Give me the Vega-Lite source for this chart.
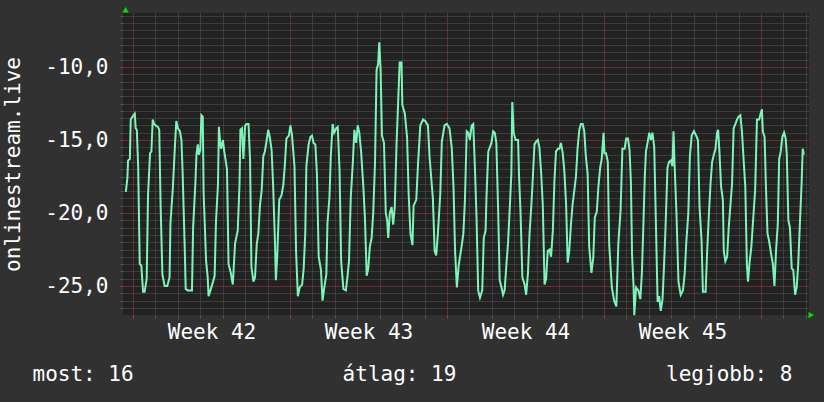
{
  "$schema": "https://vega.github.io/schema/vega-lite/v6.json",
  "width": 686,
  "height": 302,
  "autosize": {"type": "none"},
  "padding": {"left": 123, "top": 13, "right": 15, "bottom": 87},
  "background": "#313131",
  "config": {
    "view": {"fill": "#222222", "stroke": null},
    "font": "DejaVu Sans Mono",
    "axis": {"domain": false, "labelFont": "DejaVu Sans Mono", "titleFont": "DejaVu Sans Mono", "labelColor": "#ffffff", "titleColor": "#ffffff", "labelFontSize": 21, "titleFontSize": 21, "titleFontWeight": "normal"}
  },
  "datasets": {
    "series": [
      {"day":-0.32,"value":-18.55},{"day":-0.25,"value":-17.6},{"day":-0.22,"value":-16.4},{"day":-0.14,"value":-16.3},{"day":-0.10,"value":-13.6},{"day":0.02,"value":-13.3},{"day":0.08,"value":-13.2},{"day":0.12,"value":-14.2},{"day":0.17,"value":-14.3},{"day":0.23,"value":-16.8},{"day":0.30,"value":-23.5},{"day":0.37,"value":-23.6},{"day":0.45,"value":-25.4},{"day":0.52,"value":-25.4},{"day":0.61,"value":-24.5},{"day":0.67,"value":-18.8},{"day":0.76,"value":-15.9},{"day":0.82,"value":-15.8},{"day":0.88,"value":-13.6},{"day":0.94,"value":-13.9},{"day":1.01,"value":-14.0},{"day":1.11,"value":-14.1},{"day":1.17,"value":-14.3},{"day":1.23,"value":-19.4},{"day":1.31,"value":-24.2},{"day":1.41,"value":-25.0},{"day":1.53,"value":-25.0},{"day":1.63,"value":-24.4},{"day":1.67,"value":-20.7},{"day":1.78,"value":-18.2},{"day":1.85,"value":-16.0},{"day":1.93,"value":-13.7},{"day":2.0,"value":-14.2},{"day":2.09,"value":-14.4},{"day":2.16,"value":-15.0},{"day":2.21,"value":-17.1},{"day":2.31,"value":-22.6},{"day":2.35,"value":-25.2},{"day":2.44,"value":-25.3},{"day":2.63,"value":-25.3},{"day":2.68,"value":-21.0},{"day":2.78,"value":-18.0},{"day":2.83,"value":-16.0},{"day":2.89,"value":-15.3},{"day":2.93,"value":-16.0},{"day":3.0,"value":-15.7},{"day":3.05,"value":-13.3},{"day":3.11,"value":-13.4},{"day":3.15,"value":-18.7},{"day":3.26,"value":-23.3},{"day":3.33,"value":-24.4},{"day":3.37,"value":-25.7},{"day":3.45,"value":-25.3},{"day":3.57,"value":-24.7},{"day":3.64,"value":-24.3},{"day":3.70,"value":-20.6},{"day":3.79,"value":-18.0},{"day":3.83,"value":-14.1},{"day":3.89,"value":-15.2},{"day":3.93,"value":-15.6},{"day":4.01,"value":-15.0},{"day":4.07,"value":-15.8},{"day":4.19,"value":-17.0},{"day":4.26,"value":-23.5},{"day":4.36,"value":-24.1},{"day":4.45,"value":-24.9},{"day":4.55,"value":-22.1},{"day":4.67,"value":-21.2},{"day":4.75,"value":-18.0},{"day":4.79,"value":-14.3},{"day":4.86,"value":-14.2},{"day":4.92,"value":-16.3},{"day":5.0,"value":-14.0},{"day":5.07,"value":-13.9},{"day":5.15,"value":-13.9},{"day":5.22,"value":-16.4},{"day":5.28,"value":-23.7},{"day":5.37,"value":-24.7},{"day":5.44,"value":-24.4},{"day":5.52,"value":-22.1},{"day":5.59,"value":-21.4},{"day":5.66,"value":-19.5},{"day":5.74,"value":-18.4},{"day":5.81,"value":-16.1},{"day":5.88,"value":-15.8},{"day":5.96,"value":-15.0},{"day":6.03,"value":-14.3},{"day":6.11,"value":-14.9},{"day":6.18,"value":-15.7},{"day":6.25,"value":-18.2},{"day":6.33,"value":-22.0},{"day":6.37,"value":-24.6},{"day":6.43,"value":-23.0},{"day":6.52,"value":-19.1},{"day":6.62,"value":-18.8},{"day":6.70,"value":-18.1},{"day":6.77,"value":-16.7},{"day":6.84,"value":-14.9},{"day":6.95,"value":-14.7},{"day":7.02,"value":-14.0},
      {"day":7.09,"value":-14.7},{"day":7.20,"value":-16.8},{"day":7.27,"value":-22.6},{"day":7.35,"value":-25.7},{"day":7.43,"value":-25.1},{"day":7.54,"value":-24.9},{"day":7.61,"value":-23.8},{"day":7.68,"value":-21.4},{"day":7.73,"value":-16.8},{"day":7.83,"value":-15.3},{"day":7.91,"value":-14.8},{"day":7.98,"value":-14.7},{"day":8.05,"value":-15.2},{"day":8.13,"value":-15.3},{"day":8.20,"value":-17.3},{"day":8.28,"value":-23.0},{"day":8.38,"value":-23.9},{"day":8.45,"value":-26.0},{"day":8.53,"value":-25.1},{"day":8.62,"value":-24.2},{"day":8.67,"value":-20.7},{"day":8.76,"value":-18.9},{"day":8.82,"value":-16.1},{"day":8.90,"value":-13.9},{"day":8.97,"value":-14.5},{"day":9.06,"value":-14.2},{"day":9.13,"value":-14.1},{"day":9.21,"value":-17.1},{"day":9.28,"value":-23.3},{"day":9.38,"value":-25.2},{"day":9.49,"value":-25.3},{"day":9.56,"value":-24.4},{"day":9.63,"value":-23.3},{"day":9.71,"value":-18.9},{"day":9.80,"value":-16.6},{"day":9.87,"value":-14.3},{"day":9.95,"value":-15.2},{"day":10.02,"value":-14.0},{"day":10.09,"value":-14.5},{"day":10.17,"value":-15.8},{"day":10.27,"value":-18.2},{"day":10.34,"value":-20.3},{"day":10.42,"value":-24.3},{"day":10.49,"value":-23.8},{"day":10.56,"value":-22.3},{"day":10.64,"value":-21.7},{"day":10.71,"value":-20.0},{"day":10.79,"value":-16.6},{"day":10.86,"value":-10.2},{"day":10.93,"value":-9.8},{"day":10.98,"value":-8.3},{"day":11.04,"value":-10.2},{"day":11.10,"value":-14.7},{"day":11.19,"value":-15.2},{"day":11.27,"value":-20.0},{"day":11.33,"value":-20.5},{"day":11.38,"value":-21.7},{"day":11.45,"value":-20.0},{"day":11.53,"value":-19.6},{"day":11.60,"value":-20.8},{"day":11.67,"value":-19.6},{"day":11.75,"value":-15.3},{"day":11.82,"value":-12.5},{"day":11.89,"value":-9.7},{"day":11.97,"value":-9.7},{"day":12.01,"value":-12.6},{"day":12.12,"value":-13.2},{"day":12.22,"value":-14.8},{"day":12.29,"value":-18.7},{"day":12.37,"value":-21.4},{"day":12.46,"value":-22.2},{"day":12.51,"value":-19.5},{"day":12.63,"value":-19.1},{"day":12.71,"value":-16.6},{"day":12.81,"value":-14.0},{"day":12.93,"value":-13.6},{"day":13.03,"value":-13.7},{"day":13.15,"value":-14.0},{"day":13.22,"value":-16.1},{"day":13.37,"value":-19.0},{"day":13.45,"value":-22.6},{"day":13.52,"value":-22.9},{"day":13.59,"value":-21.5},{"day":13.70,"value":-18.7},{"day":13.77,"value":-15.1},{"day":13.89,"value":-14.0},{"day":13.99,"value":-13.9},{"day":14.11,"value":-14.2},{"day":14.21,"value":-15.5},{"day":14.29,"value":-18.2},{"day":14.36,"value":-22.6},{"day":14.44,"value":-25.1},{"day":14.52,"value":-23.6},
      {"day":14.65,"value":-22.3},{"day":14.73,"value":-21.4},{"day":14.80,"value":-19.1},{"day":14.88,"value":-14.4},{"day":14.95,"value":-14.5},{"day":15.02,"value":-15.0},{"day":15.10,"value":-14.0},{"day":15.17,"value":-13.9},{"day":15.24,"value":-16.7},{"day":15.32,"value":-20.5},{"day":15.39,"value":-25.3},{"day":15.47,"value":-25.8},{"day":15.57,"value":-25.3},{"day":15.64,"value":-21.7},{"day":15.72,"value":-21.2},{"day":15.76,"value":-18.9},{"day":15.84,"value":-15.8},{"day":15.91,"value":-15.5},{"day":15.98,"value":-15.2},{"day":16.06,"value":-14.4},{"day":16.13,"value":-14.5},{"day":16.20,"value":-15.2},{"day":16.28,"value":-19.8},{"day":16.35,"value":-24.6},{"day":16.43,"value":-25.1},{"day":16.50,"value":-25.6},{"day":16.57,"value":-25.3},{"day":16.65,"value":-23.5},{"day":16.72,"value":-22.1},{"day":16.80,"value":-19.6},{"day":16.87,"value":-17.3},{"day":16.91,"value":-12.4},{"day":16.97,"value":-14.5},{"day":17.06,"value":-15.0},{"day":17.17,"value":-15.0},{"day":17.21,"value":-17.4},{"day":17.28,"value":-20.0},{"day":17.36,"value":-24.4},{"day":17.46,"value":-24.9},{"day":17.53,"value":-25.6},{"day":17.61,"value":-24.1},{"day":17.68,"value":-21.4},{"day":17.76,"value":-19.5},{"day":17.83,"value":-17.5},{"day":17.90,"value":-15.3},{"day":17.98,"value":-15.1},{"day":18.05,"value":-15.0},{"day":18.12,"value":-15.5},{"day":18.20,"value":-17.3},{"day":18.27,"value":-19.4},{"day":18.35,"value":-24.9},{"day":18.42,"value":-24.5},{"day":18.49,"value":-22.6},{"day":18.57,"value":-22.5},{"day":18.64,"value":-23.0},{"day":18.72,"value":-21.2},{"day":18.79,"value":-17.8},{"day":18.86,"value":-15.8},{"day":18.94,"value":-15.6},{"day":19.01,"value":-15.6},{"day":19.08,"value":-15.2},{"day":19.16,"value":-15.9},{"day":19.23,"value":-17.1},{"day":19.31,"value":-19.4},{"day":19.38,"value":-23.4},{"day":19.45,"value":-22.6},{"day":19.53,"value":-20.7},{"day":19.60,"value":-19.4},{"day":19.68,"value":-18.4},{"day":19.75,"value":-17.5},{"day":19.82,"value":-15.6},{"day":19.90,"value":-14.3},{"day":19.97,"value":-13.9},{"day":20.05,"value":-13.9},{"day":20.12,"value":-14.4},{"day":20.19,"value":-16.1},{"day":20.27,"value":-17.3},{"day":20.34,"value":-22.3},{"day":20.44,"value":-24.1},{"day":20.52,"value":-23.1},{"day":20.59,"value":-20.3},{"day":20.68,"value":-19.9},{"day":20.75,"value":-18.2},{"day":20.83,"value":-16.9},{"day":20.90,"value":-16.3},{"day":20.98,"value":-14.5},{"day":21.02,"value":-15.9},{"day":21.09,"value":-15.9},{"day":21.17,"value":-16.5},{"day":21.23,"value":-22.1},{"day":21.35,"value":-25.1},{"day":21.45,"value":-26.0},{"day":21.55,"value":-26.4},{"day":21.64,"value":-22.1},{"day":21.74,"value":-19.8},{"day":21.82,"value":-15.6},{"day":21.92,"value":-15.6},{"day":21.99,"value":-14.9},{"day":22.07,"value":-14.9},
      {"day":22.14,"value":-15.7},{"day":22.20,"value":-17.9},{"day":22.25,"value":-22.8},{"day":22.32,"value":-25.1},{"day":22.35,"value":-27.0},{"day":22.43,"value":-25.1},{"day":22.53,"value":-25.3},{"day":22.62,"value":-25.9},{"day":22.69,"value":-24.1},{"day":22.75,"value":-21.1},{"day":22.82,"value":-17.5},{"day":22.87,"value":-15.8},{"day":22.94,"value":-15.2},{"day":23.02,"value":-14.5},{"day":23.09,"value":-15.0},{"day":23.16,"value":-14.5},{"day":23.24,"value":-15.5},{"day":23.31,"value":-20.4},{"day":23.39,"value":-26.1},{"day":23.46,"value":-25.7},{"day":23.53,"value":-26.7},{"day":23.61,"value":-25.9},{"day":23.68,"value":-23.5},{"day":23.75,"value":-20.7},{"day":23.83,"value":-16.9},{"day":23.90,"value":-16.5},{"day":23.98,"value":-16.4},{"day":24.05,"value":-16.8},{"day":24.10,"value":-14.4},{"day":24.15,"value":-16.8},{"day":24.23,"value":-20.0},{"day":24.32,"value":-24.7},{"day":24.42,"value":-25.6},{"day":24.52,"value":-25.3},{"day":24.60,"value":-24.1},{"day":24.67,"value":-22.0},{"day":24.76,"value":-20.0},{"day":24.83,"value":-16.1},{"day":24.91,"value":-14.7},{"day":25.01,"value":-14.4},{"day":25.11,"value":-14.7},{"day":25.19,"value":-15.0},{"day":25.26,"value":-19.6},{"day":25.35,"value":-21.9},{"day":25.41,"value":-25.4},{"day":25.53,"value":-25.4},{"day":25.60,"value":-22.6},{"day":25.68,"value":-20.0},{"day":25.75,"value":-18.0},{"day":25.82,"value":-16.5},{"day":25.90,"value":-16.0},{"day":25.97,"value":-15.6},{"day":26.04,"value":-14.5},{"day":26.09,"value":-14.3},{"day":26.15,"value":-15.9},{"day":26.22,"value":-18.2},{"day":26.30,"value":-19.1},{"day":26.34,"value":-22.6},{"day":26.41,"value":-23.3},{"day":26.49,"value":-23.0},{"day":26.56,"value":-21.0},{"day":26.63,"value":-19.6},{"day":26.71,"value":-18.0},{"day":26.78,"value":-14.2},{"day":26.86,"value":-13.9},{"day":26.93,"value":-13.6},{"day":27.00,"value":-13.4},{"day":27.08,"value":-13.3},{"day":27.15,"value":-14.4},{"day":27.23,"value":-16.5},{"day":27.30,"value":-18.2},{"day":27.37,"value":-23.5},{"day":27.42,"value":-24.7},{"day":27.49,"value":-23.4},{"day":27.57,"value":-22.3},{"day":27.67,"value":-20.0},{"day":27.74,"value":-18.4},{"day":27.82,"value":-13.6},{"day":27.92,"value":-13.6},{"day":27.98,"value":-13.2},{"day":28.04,"value":-12.9},{"day":28.08,"value":-14.4},{"day":28.16,"value":-14.8},{"day":28.22,"value":-18.2},{"day":28.29,"value":-21.4},{"day":28.36,"value":-21.9},{"day":28.45,"value":-22.8},{"day":28.53,"value":-23.5},{"day":28.60,"value":-25.0},{"day":28.67,"value":-22.6},{"day":28.75,"value":-20.7},{"day":28.81,"value":-16.3},{"day":28.88,"value":-15.8},{"day":28.95,"value":-14.8},{"day":29.03,"value":-14.5},{"day":29.10,"value":-14.9},{"day":29.15,"value":-16.0},{"day":29.22,"value":-20.5},{"day":29.29,"value":-21.0},{"day":29.37,"value":-23.8},{"day":29.44,"value":-23.9},{"day":29.52,"value":-25.6},{"day":29.59,"value":-25.1},{"day":29.66,"value":-23.5},{"day":29.74,"value":-20.5},{"day":29.81,"value":-18.0},{"day":29.86,"value":-15.6},{"day":29.91,"value":-16.0}
    ],
    "marker": [{"item": "arrow"}]
  },
  "data": {"name": "series"},
  "resolve": {"axis": {"x": "independent", "y": "independent"}},
  "layer": [
    {
      "mark": {"type": "line", "opacity": 0},
      "encoding": {
        "x": {"field": "day", "type": "quantitative", "scale": {"domain": [-0.44586, 30.14014], "nice": false, "zero": false},
          "axis": {"orient": "bottom", "values": [0,1,2,3,4,5,6,7,8,9,10,11,12,13,14,15,16,17,18,19,20,21,22,23,24,25,26,27,28,29,30], "labels": false, "grid": true,
            "gridColor": {"condition": {"test": "datum.value % 7 === 0", "value": "#b03a3a"}, "value": "#575757"},
            "tickColor": {"condition": {"test": "datum.value % 7 === 0", "value": "#b03a3a"}, "value": "#575757"},
            "gridDash": [1, 1], "gridWidth": 1, "ticks": true, "tickSize": 3, "title": "most: 16", "titleX": -91, "titleY": 65, "titleAlign": "left", "titleBaseline": "alphabetic", "titleAnchor": null}},
        "y": {"field": "value", "type": "quantitative", "scale": {"domain": [-26.9863, -6.30137], "nice": false, "zero": false},
          "axis": {"orient": "left", "values": [-26.5,-26,-25.5,-25,-24.5,-24,-23.5,-23,-22.5,-22,-21.5,-21,-20.5,-20,-19.5,-19,-18.5,-18,-17.5,-17,-16.5,-16,-15.5,-15,-14.5,-14,-13.5,-13,-12.5,-12,-11.5,-11,-10.5,-10,-9.5,-9,-8.5,-8,-7.5,-7,-6.5], "labels": false, "grid": true,
            "gridColor": {"condition": {"test": "datum.value % 5 === 0", "value": "#b03a3a"}, "value": "#575757"},
            "tickColor": {"condition": {"test": "datum.value % 5 === 0", "value": "#b03a3a"}, "value": "#575757"},
            "gridDash": [1, 1], "gridWidth": 1, "ticks": true, "tickSize": 3, "title": null}}
      }
    },
    {
      "mark": {"type": "line", "opacity": 0},
      "encoding": {
        "x": {"field": "day", "type": "quantitative",
          "axis": {"orient": "bottom", "values": [3.5, 10.5, 17.5, 24.5], "labelExpr": "'Week ' + (42 + floor(datum.value / 7))", "grid": false, "ticks": false, "tickSize": 0, "labelPadding": 23, "labelBaseline": "alphabetic", "labelAlign": "center", "title": "átlag: 19", "titleX": 276, "titleY": 65, "titleAlign": "center", "titleBaseline": "alphabetic", "titleAnchor": null}},
        "y": {"field": "value", "type": "quantitative",
          "axis": {"orient": "left", "values": [-25, -20, -15, -10], "labelExpr": "replace(replace(format(datum.value, '.1f'), '.', ','), '\u2212', '-')", "grid": false, "ticks": false, "tickSize": 0, "labelPadding": 15, "labelBaseline": "middle", "labelAlign": "right", "title": "onlinestream.live", "titleX": -104, "titleY": 151, "titleAngle": 270, "titleAlign": "center", "titleBaseline": "alphabetic", "titleAnchor": null}}
      }
    },
    {
      "mark": {"type": "line", "opacity": 0},
      "encoding": {
        "x": {"field": "day", "type": "quantitative",
          "axis": {"orient": "bottom", "values": [], "labels": false, "grid": false, "ticks": false, "title": "legjobb: 8", "titleX": 669, "titleY": 65, "titleAlign": "right", "titleBaseline": "alphabetic", "titleAnchor": null}},
        "y": {"field": "value", "type": "quantitative", "axis": null}
      }
    },
    {
      "mark": {"type": "line", "color": "#7df5b9", "strokeWidth": 2, "interpolate": "linear"},
      "encoding": {
        "x": {"field": "day", "type": "quantitative", "axis": null},
        "y": {"field": "value", "type": "quantitative", "axis": null}
      }
    },
    {
      "data": {"name": "marker"},
      "mark": {"type": "point", "shape": "triangle-up", "filled": true, "color": "#00e000", "size": 40, "opacity": 1, "clip": false},
      "encoding": {
        "x": {"datum": -0.33, "type": "quantitative", "axis": null},
        "y": {"datum": -6.08, "type": "quantitative", "axis": null}
      }
    },
    {
      "data": {"name": "marker"},
      "mark": {"type": "point", "shape": "triangle-right", "filled": true, "color": "#00e000", "size": 40, "opacity": 1, "clip": false},
      "encoding": {
        "x": {"datum": 30.24, "type": "quantitative", "axis": null},
        "y": {"datum": -26.99, "type": "quantitative", "axis": null}
      }
    }
  ]
}
